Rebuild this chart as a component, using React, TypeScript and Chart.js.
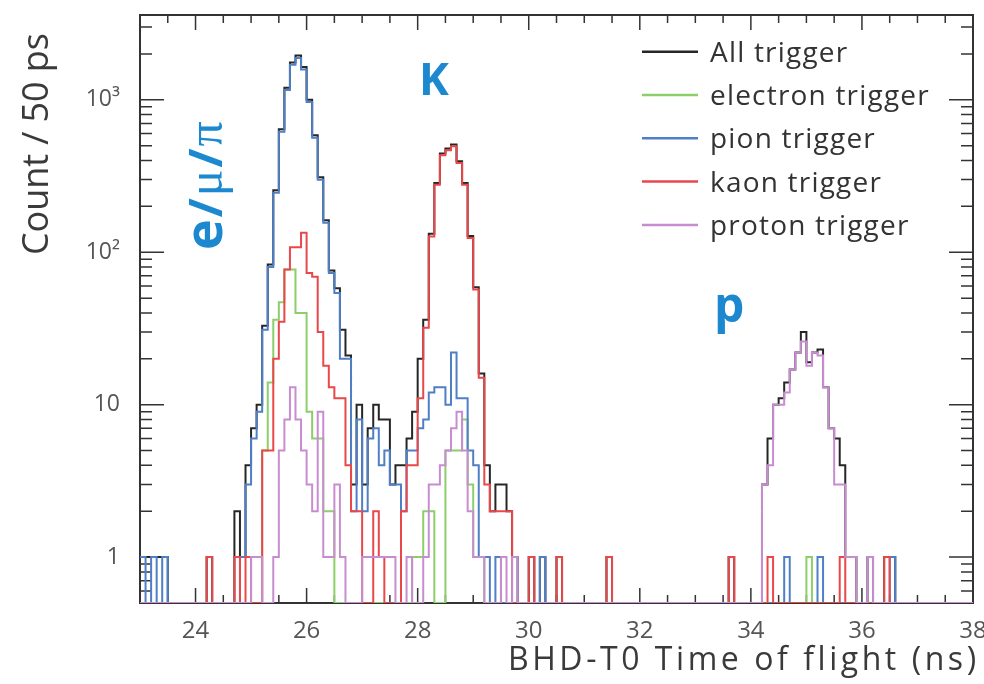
import React, { useEffect, useRef } from 'react';
import { Chart, registerables } from 'chart.js';

Chart.register(...registerables);

// ---------- data ----------
const BIN_START = 23.0; // ns, low edge of first bin
const BIN_WIDTH = 0.1; // ns
const X_MIN = 23;
const X_MAX = 38;
const Y_MIN = 0.5;
const Y_MAX = 3600;

const xTickValues = [24, 26, 28, 30, 32, 34, 36, 38];
const yTickValues = [1, 10, 100, 1000];
const yTickLabels = ['1', '10', '10²', '10³'];

const seriesLabels = ['All trigger', 'electron trigger', 'pion trigger', 'kaon trigger', 'proton trigger'];
const seriesColors = ['#262626', '#8ccf6a', '#4f7fc6', '#e9484b', '#c88dd0'];

const allTrigger = [
  1, 1, 1, 1, 1, 0, 0, 0, 0, 0,
  0, 0, 1, 0, 0, 0, 0, 2, 1, 4,
  7, 10, 33, 83, 255, 640, 1200, 1760, 1950, 1640,
  1000, 585, 310, 162, 76, 58, 31, 21, 3, 10,
  3, 7, 10, 8, 8, 3, 4, 4, 6, 9,
  20, 36, 132, 285, 445, 480, 510, 395, 285, 128,
  59, 16, 4, 2, 3, 3, 2, 1, 0, 0,
  1, 0, 1, 0, 0, 1, 0, 0, 0, 0,
  0, 0, 0, 0, 1, 0, 0, 0, 0, 0,
  0, 0, 0, 0, 0, 0, 0, 0, 0, 0,
  0, 0, 0, 0, 0, 0, 1, 0, 0, 0,
  0, 0, 3, 6, 10, 11, 14, 17, 22, 30,
  19, 22, 23, 13, 7, 6, 4, 1, 1, 0,
  0, 1, 0, 0, 1, 1, 0, 0, 0, 0,
  0, 0, 0, 0, 0, 0, 0, 0, 0, 0,
];

const electronTrigger = [
  0, 0, 0, 0, 0, 0, 0, 0, 0, 0,
  0, 0, 0, 0, 0, 0, 0, 0, 0, 0,
  0, 0, 5, 14, 36, 47, 77, 77, 40, 40,
  9, 6, 6, 2, 2, 0, 0, 0, 0, 0,
  0, 0, 0, 0, 0, 0, 0, 0, 0, 1,
  1, 2, 2, 0, 0, 5, 5, 5, 8, 3,
  1, 1, 0, 0, 0, 0, 0, 0, 0, 0,
  0, 0, 0, 0, 0, 0, 0, 0, 0, 0,
  0, 0, 0, 0, 0, 0, 0, 0, 0, 0,
  0, 0, 0, 0, 0, 0, 0, 0, 0, 0,
  0, 0, 0, 0, 0, 0, 0, 0, 0, 0,
  0, 0, 0, 0, 0, 0, 0, 0, 0, 0,
  1, 0, 0, 0, 0, 0, 0, 0, 0, 0,
  0, 0, 0, 0, 0, 0, 0, 0, 0, 0,
  0, 0, 0, 0, 0, 0, 0, 0, 0, 0,
];

const pionTrigger = [
  1, 0, 1, 0, 1, 0, 0, 0, 0, 0,
  0, 0, 0, 0, 0, 0, 0, 0, 1, 3,
  6, 9, 31, 80, 246, 617, 1160, 1700, 1880, 1580,
  968, 564, 299, 156, 73, 54, 20, 20, 2, 8,
  2, 6, 7, 4, 5, 3, 3, 2, 5, 5,
  7, 8, 12, 13, 13, 10, 22, 11, 11, 5,
  4, 1, 1, 0, 1, 0, 0, 0, 0, 0,
  0, 0, 1, 0, 0, 0, 0, 0, 0, 0,
  0, 0, 0, 0, 0, 0, 0, 0, 0, 0,
  0, 0, 0, 0, 0, 0, 0, 0, 0, 0,
  0, 0, 0, 0, 0, 0, 0, 0, 0, 0,
  0, 0, 0, 0, 0, 0, 1, 0, 0, 0,
  0, 0, 1, 0, 0, 0, 0, 0, 0, 0,
  0, 0, 0, 0, 0, 1, 0, 0, 0, 0,
  0, 0, 0, 0, 0, 0, 0, 0, 0, 0,
];

const kaonTrigger = [
  0, 0, 0, 0, 0, 0, 0, 0, 0, 0,
  0, 0, 1, 0, 0, 0, 0, 1, 0, 1,
  0, 0, 5, 5, 20, 35, 77, 108, 108, 134,
  73, 69, 30, 18, 13, 11, 11, 4, 2, 2,
  0, 0, 2, 1, 0, 0, 0, 2, 4, 4,
  11, 32, 127, 277, 433, 467, 495, 385, 277, 124,
  57, 15, 3, 2, 2, 2, 2, 0, 0, 0,
  1, 0, 0, 0, 0, 1, 0, 0, 0, 0,
  0, 0, 0, 0, 1, 0, 0, 0, 0, 0,
  0, 0, 0, 0, 0, 0, 0, 0, 0, 0,
  0, 0, 0, 0, 0, 0, 1, 0, 0, 0,
  0, 0, 0, 1, 0, 0, 0, 0, 0, 0,
  0, 0, 0, 0, 0, 0, 1, 0, 0, 0,
  0, 0, 0, 0, 1, 0, 0, 0, 0, 0,
  0, 0, 0, 0, 0, 0, 0, 0, 0, 0,
];

const protonTrigger = [
  0, 0, 0, 0, 0, 0, 0, 0, 0, 0,
  0, 0, 0, 0, 0, 0, 0, 0, 0, 0,
  1, 1, 0, 0, 1, 5, 8, 13, 8, 5,
  3, 2, 9, 1, 1, 3, 1, 0, 0, 0,
  1, 1, 1, 1, 1, 1, 0, 0, 1, 0,
  0, 1, 3, 3, 4, 5, 7, 9, 5, 2,
  1, 1, 0, 0, 0, 1, 0, 1, 0, 0,
  0, 0, 0, 0, 0, 0, 0, 0, 0, 0,
  0, 0, 0, 0, 0, 0, 0, 0, 0, 0,
  0, 0, 0, 0, 0, 0, 0, 0, 0, 0,
  0, 0, 0, 0, 0, 0, 0, 0, 0, 0,
  0, 0, 3, 4, 10, 10, 12, 17, 22, 26,
  18, 22, 21, 13, 7, 3, 3, 1, 1, 0,
  0, 1, 0, 0, 0, 0, 0, 0, 0, 0,
  0, 0, 0, 0, 0, 0, 0, 0, 0, 0,
];

const seriesCounts = [allTrigger, electronTrigger, pionTrigger, kaonTrigger, protonTrigger];

// ---------- style / layout ----------
const FONT = '"Open Sans", "DejaVu Sans", sans-serif';
const SERIF = '"Liberation Serif", "DejaVu Serif", serif';
const FRAME_COLOR = '#333333';
const TICK_LABEL_COLOR = '#555555';
const TITLE_COLOR = '#3a3a3a';
const NOTE_COLOR = '#1c88cf';

function toPoints(counts: number[]) {
  const pts = counts.map((c, k) => ({ x: BIN_START + k * BIN_WIDTH, y: c > 0 ? c : Y_MIN }));
  const last = counts[counts.length - 1];
  pts.push({ x: BIN_START + counts.length * BIN_WIDTH, y: last > 0 ? last : Y_MIN });
  return pts;
}

function fitText(ctx: CanvasRenderingContext2D, text: string, x: number, y: number, width: number) {
  (ctx as any).letterSpacing = '0px';
  const w = ctx.measureText(text).width;
  const sp = (width - w) / Math.max(1, text.length - 1);
  (ctx as any).letterSpacing = `${sp.toFixed(2)}px`;
  ctx.fillText(text, x, y);
  (ctx as any).letterSpacing = '0px';
}

const framePlugin = {
  id: 'rootFrame',
  beforeDatasetsDraw(chart: any) {
    const { ctx, chartArea: a, scales } = chart;
    const xs = scales.x;
    const ys = scales.y;
    ctx.save();
    ctx.strokeStyle = FRAME_COLOR;
    ctx.lineWidth = 1.5;
    ctx.beginPath();
    for (let i = 0; i <= (X_MAX - X_MIN) * 2; i++) {
      const v = X_MIN + i * 0.5;
      const px = xs.getPixelForValue(v);
      const len = v % 2 === 0 ? 15 : 8;
      ctx.moveTo(px, a.bottom);
      ctx.lineTo(px, a.bottom - len);
      ctx.moveTo(px, a.top);
      ctx.lineTo(px, a.top + len);
    }
    for (let e = -1; e <= 3; e++) {
      for (let m = 1; m <= 9; m++) {
        const v = m * Math.pow(10, e);
        if (v < Y_MIN || v > Y_MAX) continue;
        const py = ys.getPixelForValue(v);
        const len = m === 1 ? 24 : 12;
        ctx.moveTo(a.left, py);
        ctx.lineTo(a.left + len, py);
        ctx.moveTo(a.right, py);
        ctx.lineTo(a.right - len, py);
      }
    }
    ctx.stroke();
    ctx.lineWidth = 2;
    ctx.strokeRect(a.left, a.top, a.right - a.left, a.bottom - a.top);
    ctx.restore();
  },
};

const overlayPlugin = {
  id: 'overlay',
  afterDraw(chart: any) {
    const ctx: CanvasRenderingContext2D = chart.ctx;
    ctx.save();
    // legend
    ctx.textAlign = 'left';
    ctx.textBaseline = 'alphabetic';
    chart.data.datasets.forEach((ds: any, i: number) => {
      const base = 61.7 + i * 43.3;
      ctx.strokeStyle = ds.borderColor;
      ctx.lineWidth = 2.5;
      ctx.beginPath();
      ctx.moveTo(642, base - 10);
      ctx.lineTo(698, base - 10);
      ctx.stroke();
      ctx.fillStyle = '#333333';
      ctx.font = `28px ${FONT}`;
      (ctx as any).letterSpacing = '1.2px';
      ctx.fillText(ds.label, 710, base);
      (ctx as any).letterSpacing = '0px';
    });

    // axis titles
    ctx.fillStyle = TITLE_COLOR;
    ctx.font = `32px ${FONT}`;
    fitText(ctx, 'BHD-T0 Time of flight (ns)', 508, 670, 468);

    ctx.save();
    ctx.translate(48, 255);
    ctx.rotate(-Math.PI / 2);
    ctx.font = `36px ${FONT}`;
    fitText(ctx, 'Count / 50 ps', 0, 0, 222);
    ctx.restore();

    // particle annotations
    ctx.fillStyle = NOTE_COLOR;
    ctx.save();
    ctx.translate(222, 250);
    ctx.rotate(-Math.PI / 2);
    const parts: [string, string][] = [
      ['e', `bold 52px ${FONT}`],
      ['/', `bold 46px ${FONT}`],
      ['μ', `50px ${SERIF}`],
      ['/', `bold 46px ${FONT}`],
      ['π', `50px ${SERIF}`],
    ];
    let cx = 0;
    parts.forEach(([t, f]) => {
      ctx.font = f;
      ctx.fillText(t, cx, 0);
      cx += ctx.measureText(t).width + 2;
    });
    ctx.restore();

    ctx.font = `bold 45px ${FONT}`;
    ctx.fillText('K', 419, 95);
    ctx.font = `bold 48px ${FONT}`;
    ctx.fillText('p', 714, 322);
    ctx.restore();
  },
};

export default function App() {
  const ref = useRef<HTMLCanvasElement | null>(null);

  useEffect(() => {
    const canvas = ref.current;
    if (!canvas) return;
    const orders = [5, 4, 3, 2, 1];
    const chart = new Chart(canvas, {
      type: 'line',
      data: {
        datasets: seriesCounts.map((counts, i) => ({
          label: seriesLabels[i],
          data: toPoints(counts),
          borderColor: seriesColors[i],
          backgroundColor: seriesColors[i],
          borderWidth: 2,
          pointRadius: 0,
          pointHoverRadius: 0,
          stepped: true,
          fill: false,
          tension: 0,
          order: orders[i],
        })),
      },
      options: {
        responsive: false,
        animation: false,
        devicePixelRatio: 1,
        events: [],
        layout: { padding: { left: 0, top: 15, right: 11, bottom: 0 }, autoPadding: false },
        plugins: {
          legend: { display: false },
          tooltip: { enabled: false },
          title: { display: false },
        },
        scales: {
          x: {
            type: 'linear',
            min: X_MIN,
            max: X_MAX,
            grid: { display: false },
            border: { display: false },
            afterBuildTicks: (scale: any) => {
              scale.ticks = xTickValues.map((v) => ({ value: v }));
            },
            afterFit: (scale: any) => {
              scale.height = 81;
              scale.paddingLeft = 0;
              scale.paddingRight = 0;
            },
            ticks: {
              autoSkip: false,
              maxRotation: 0,
              padding: 6,
              color: TICK_LABEL_COLOR,
              font: { family: FONT, size: 24 },
              callback: (value: any) => String(value),
            },
          },
          y: {
            type: 'logarithmic',
            min: Y_MIN,
            max: Y_MAX,
            grid: { display: false },
            border: { display: false },
            afterBuildTicks: (scale: any) => {
              scale.ticks = yTickValues.map((v) => ({ value: v }));
            },
            afterFit: (scale: any) => {
              scale.width = 140;
              scale.paddingTop = 0;
              scale.paddingBottom = 0;
            },
            ticks: {
              autoSkip: false,
              padding: 12,
              color: TICK_LABEL_COLOR,
              font: { family: FONT, size: 23 },
              callback: (value: any) => {
                const idx = yTickValues.indexOf(Number(value));
                return idx >= 0 ? yTickLabels[idx] : '';
              },
            },
          },
        },
      },
      plugins: [framePlugin, overlayPlugin],
    } as any);
    return () => chart.destroy();
  }, []);

  return (
    <div style={{ position: 'fixed', left: 0, top: 0, width: 984, height: 684, background: '#ffffff' }}>
      <canvas ref={ref} width={984} height={684} style={{ width: 984, height: 684, display: 'block' }} />
    </div>
  );
}
